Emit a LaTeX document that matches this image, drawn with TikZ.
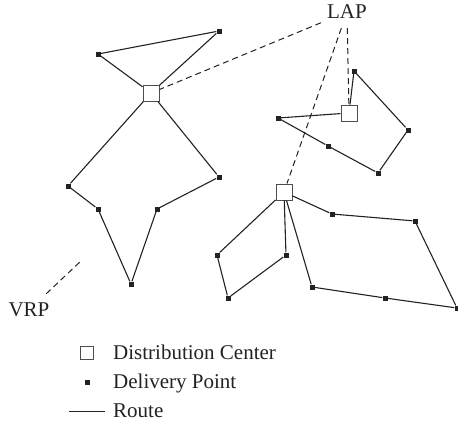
\documentclass[tikz,border=0pt]{standalone}
\usepackage{fontspec}
\setmainfont{Liberation Serif}
\usepackage{tikz}
\definecolor{ink}{RGB}{34,34,34}

\begin{document}
\begin{tikzpicture}[
  x=1pt, y=-1pt,
  depot/.style={rectangle, draw=ink!80, line width=1pt, fill=white,
                minimum size=16pt, inner sep=0pt},
  stop/.style={rectangle, fill=ink, minimum size=5pt, inner sep=0pt},
  route/.style={draw=ink, line width=1.1pt},
  link/.style={draw=ink, line width=1pt, dash pattern=on 6pt off 4pt},
  lbl/.style={inner xsep=6pt, inner ysep=9pt, text=ink,
              font=\fontsize{21}{24}\selectfont},
  key/.style={anchor=base west, inner sep=0pt, text=ink,
              font=\fontsize{21}{24}\selectfont}
]
\useasboundingbox (0,0) rectangle (458,424);

\node[lbl] (lap) at (347,12) {LAP};
\node[lbl] (vrp) at (29,310) {VRP};
\coordinate (vrpend) at (82,260);

\node[depot] (dc1) at (151,93) {};
\node[depot] (dc2) at (349,113) {};
\node[depot] (dc3) at (284,192) {};

\node[stop] (u1) at (98,54) {};
\node[stop] (u2) at (219,31) {};
\node[stop] (u3) at (68,186) {};
\node[stop] (u4) at (98,209) {};
\node[stop] (u5) at (131,284) {};
\node[stop] (u6) at (157,209) {};
\node[stop] (u7) at (219,177) {};

\node[stop] (v1) at (354,71) {};
\node[stop] (v2) at (408,130) {};
\node[stop] (v3) at (378,173) {};
\node[stop] (v4) at (328,146) {};
\node[stop] (v5) at (278,118) {};

\node[stop] (w1) at (217,255) {};
\node[stop] (w2) at (228,298) {};
\node[stop] (w3) at (286,255) {};
\node[stop] (w4) at (332,214) {};
\node[stop] (w5) at (415,221) {};
\node[stop] (w6) at (457,308) {};
\node[stop] (w7) at (385,298) {};
\node[stop] (w8) at (312,287) {};

\draw[link] (lap) -- (dc1);
\draw[link] (lap) -- (dc2);
\draw[link] (lap) -- (dc3);
\draw[link] (vrp) -- (vrpend);

\draw[route] (dc1) -- (u1) -- (u2) -- (dc1);
\draw[route] (dc1) -- (u3) -- (u4) -- (u5) -- (u6) -- (u7) -- (dc1);
\draw[route] (dc2) -- (v1) -- (v2) -- (v3) -- (v4) -- (v5) -- (dc2);
\draw[route] (dc3) -- (w1) -- (w2) -- (w3) -- (dc3);
\draw[route] (dc3) -- (w4) -- (w5) -- (w6) -- (w7) -- (w8) -- (dc3);

\node[depot, minimum size=13pt] (keydc) at (87,353) {};
\node[stop] (keystop) at (87,382) {};
\coordinate (keya) at (69,411);
\coordinate (keyb) at (105,411);
\draw[route, line width=1pt] (keya) -- (keyb);
\node[key] (keydctext) at (113,359) {Distribution Center};
\node[key] (keystoptext) at (113,388) {Delivery Point};
\node[key] (keyroutetext) at (113,417) {Route};
\end{tikzpicture}
\end{document}
